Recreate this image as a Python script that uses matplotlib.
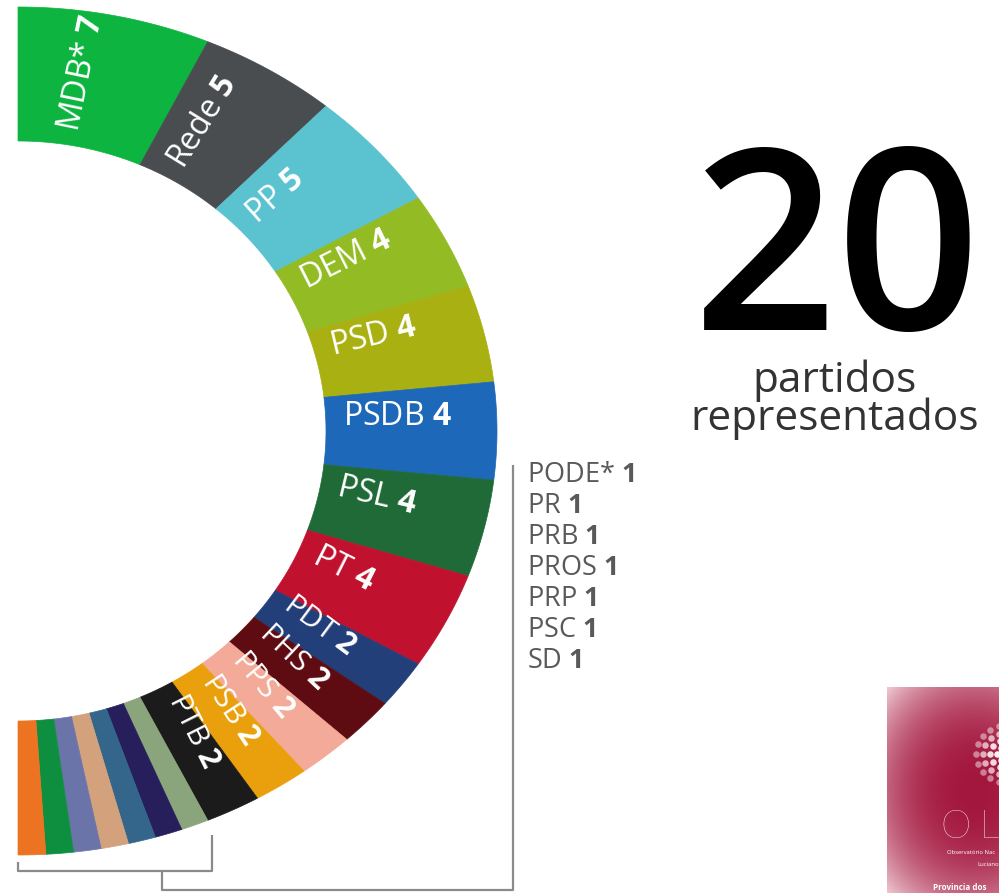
import numpy as np
import matplotlib.pyplot as plt
from matplotlib.patches import Polygon

plt.rcParams['font.family'] = ['Open Sans', 'DejaVu Sans']
plt.rcParams['mathtext.fontset'] = 'custom'
plt.rcParams['mathtext.rm'] = 'Open Sans'
plt.rcParams['mathtext.bf'] = 'Open Sans:bold'

# seats per party, clockwise from the top of the half ring
parties = ["MDB*", "Rede", "PP", "DEM", "PSD", "PSDB", "PSL", "PT",
           "PDT", "PHS", "PPS", "PSB", "PTB",
           "PODE*", "PR", "PRB", "PROS", "PRP", "PSC", "SD"]
seats = [7, 5, 5, 4, 4, 4, 4, 4, 2, 2, 2, 2, 2, 1, 1, 1, 1, 1, 1, 1]
colors = ["#0db540", "#4a4d50", "#5bc2cf", "#93bb24", "#a9b012", "#1d68b8",
          "#1f6a37", "#c0122e", "#233f79", "#5e0c12", "#f3aa98", "#eaa00c",
          "#1b1b1b", "#8aa57c", "#261f5c", "#33668a", "#d3a27c", "#6b74a8",
          "#0d8f3f", "#ec7322"]
n_parties = "20"
subtitle = "partidos\nrepresentados"

W, H = 999, 893
CX, CY = 18, 431
RX_OUT, RY_OUT = 479, 424
RX_IN, RY_IN = 308, 290


def arc(rx, ry, a0, a1, n=60):
    t = np.radians(np.linspace(a0, a1, n))
    return np.column_stack([CX + rx * np.cos(t), CY - ry * np.sin(t)])


fig = plt.figure(figsize=(W / 100, H / 100), dpi=100)
ax = fig.add_axes([0, 0, 1, 1])
ax.set_xlim(0, W)
ax.set_ylim(H, 0)
ax.axis('off')

total = sum(seats)
edges = 90 - 180 * np.concatenate([[0], np.cumsum(seats)]) / total

for i, (p, s, c) in enumerate(zip(parties, seats, colors)):
    a0, a1 = edges[i], edges[i + 1]
    pts = np.vstack([arc(RX_OUT, RY_OUT, a0, a1), arc(RX_IN, RY_IN, a1, a0)])
    ax.add_patch(Polygon(pts, closed=True, facecolor=c, edgecolor=c, lw=0.5))
    if s >= 2:
        mid = (a0 + a1) / 2
        t = np.radians(mid)
        f = 0.1
        rx = RX_IN + f * (RX_OUT - RX_IN)
        ry = RY_IN + f * (RY_OUT - RY_IN)
        # baseline sits a little above the radial line through the slice
        x = CX + rx * np.cos(t) - 6 * np.sin(t)
        y = CY - ry * np.sin(t) - 6 * np.cos(t)
        ax.text(x, y, f"{p} $\\mathbf{{{s}}}$", rotation=mid,
                rotation_mode='anchor', ha='left', va='baseline',
                color='white', fontsize=23 if s > 2 else 21.5)

# list of the one-seat parties
small = [(p, s) for p, s in zip(parties, seats) if s == 1]
for k, (p, s) in enumerate(small):
    ax.text(527, 475 + 31 * k, f"{p} $\\mathbf{{{s}}}$", ha='left',
            va='center', color='#595959', fontsize=19.5)

# brackets tying the thin slices to the list
first_small = edges[len(parties) - len(small)]
xr = CX + RX_OUT * np.cos(np.radians(first_small)) + 4
ytop = CY - RY_OUT * np.sin(np.radians(first_small)) + 15
ax.plot([CX, CX, xr, xr], [862, 871, 871, ytop], color='#8a8a8a', lw=1.6,
        solid_capstyle='butt')
xm = (CX + xr) / 2 + 47
ax.plot([xm, xm, 513, 513], [871, 890, 890, 465], color='#8a8a8a', lw=1.6,
        solid_capstyle='butt')

# big number
ax.text(837, 330, n_parties, ha='center', va='baseline', fontsize=182,
        fontweight='semibold', color='black')
ax.text(835, 430, subtitle, ha='center', va='baseline', fontsize=30.5,
        linespacing=0.87, color='#333333')

# logo in the corner
x0, x1, y0, y1 = 887, 999, 687, 893
yy, xx = np.mgrid[y0:y1, x0:x1]
d = np.sqrt(((xx - 975) / 130.0) ** 2 + ((yy - 790) / 150.0) ** 2)
tt = np.clip(d, 0, 1) ** 2.4
dark = np.array([0.64, 0.09, 0.24])
light = np.array([0.96, 0.85, 0.88])
img = dark * (1 - tt[..., None]) + light * tt[..., None]
ax.imshow(img, extent=(x0, x1, y1, y0), origin='upper', aspect='auto',
          zorder=1, interpolation='bilinear')
ax.set_xlim(0, W)
ax.set_ylim(H, 0)

dcx, dcy = 1004, 754
for r, n, a in [(7, 6, 0.95), (14, 10, 0.85), (21, 14, 0.65), (28, 18, 0.45)]:
    ang = np.linspace(0, 2 * np.pi, n, endpoint=False)
    ax.scatter(dcx + r * np.cos(ang), dcy + r * np.sin(ang), s=22,
               color='white', alpha=a, linewidths=0, zorder=3)

ax.text(956, 827, "O", ha='center', va='center', fontsize=28, color='white',
        family=['Lato', 'DejaVu Sans'], fontweight='light', zorder=4)
ax.text(980, 827, "L", ha='left', va='center', fontsize=28, color='white',
        family=['Lato', 'DejaVu Sans'], fontweight='light', zorder=4)
ax.text(947, 853, "Observatório Nac", ha='left', va='center',
        fontsize=4.2, color='white', zorder=4)
ax.text(977, 864, "Luciano", ha='left', va='center', fontsize=4.2,
        color='white', zorder=4)
ax.text(933, 888, "Provincia dos", ha='left', va='center', fontsize=5.8,
        fontweight='bold', color='white', zorder=4)

fig.savefig("out.png", dpi=100, facecolor='white')
